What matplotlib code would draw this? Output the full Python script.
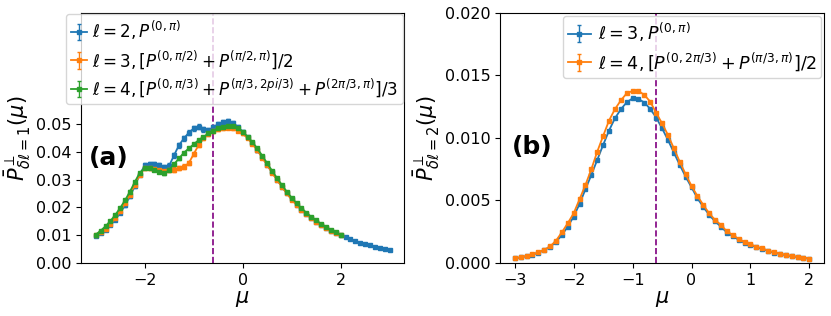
import numpy as np
import matplotlib
matplotlib.use("Agg")
import matplotlib.pyplot as plt

# mu grid (step 0.1)
mu_a_long = np.round(np.arange(-3.0, 3.05, 0.1), 1)   # 61 points, l=2
mu_a = np.round(np.arange(-3.0, 2.05, 0.1), 1)        # 51 points
mu_b = np.round(np.arange(-3.0, 2.05, 0.1), 1)

# panel (a): P_{dl=1}
a_l2 = [0.0097, 0.0107, 0.0120, 0.0136, 0.0156, 0.0180, 0.0208, 0.0240, 0.0277, 0.0318,
        0.0352, 0.0357, 0.0356, 0.0352, 0.0346, 0.0350, 0.0388, 0.0424, 0.0448, 0.0469,
        0.0484, 0.0490, 0.0482, 0.0478, 0.0488, 0.0500, 0.0508, 0.0511, 0.0505, 0.0490,
        0.0472, 0.0452, 0.0430, 0.0406, 0.0380, 0.0353, 0.0326, 0.0300, 0.0275, 0.0251,
        0.0229, 0.0210, 0.0192, 0.0176, 0.0162, 0.0149, 0.0137, 0.0126, 0.0116, 0.0107,
        0.0099, 0.0092, 0.0085, 0.0079, 0.0073, 0.0068, 0.0063, 0.0059, 0.0055, 0.0051,
        0.0047]
a_l2_err = [0.0003, 0.0003, 0.0003, 0.0004, 0.0004, 0.0004, 0.0005, 0.0005, 0.0006, 0.0006,
            0.0007, 0.0007, 0.0007, 0.0007, 0.0007, 0.0008, 0.0009, 0.0009, 0.0009, 0.0009,
            0.0009, 0.0009, 0.0009, 0.0008, 0.0008, 0.0008, 0.0008, 0.0007, 0.0007, 0.0006,
            0.0006, 0.0005, 0.0005, 0.0005, 0.0004, 0.0004, 0.0004, 0.0004, 0.0003, 0.0003,
            0.0003, 0.0003, 0.0003, 0.0002, 0.0002, 0.0002, 0.0002, 0.0002, 0.0002, 0.0002,
            0.0002, 0.0002, 0.0002, 0.0002, 0.0002, 0.0002, 0.0001, 0.0001, 0.0001, 0.0001,
            0.0001]

a_l3 = [0.0100, 0.0110, 0.0123, 0.0140, 0.0161, 0.0186, 0.0214, 0.0246, 0.0282, 0.0318,
        0.0340, 0.0340, 0.0337, 0.0333, 0.0331, 0.0334, 0.0336, 0.0341, 0.0347, 0.0359,
        0.0392, 0.0424, 0.0448, 0.0464, 0.0474, 0.0481, 0.0485, 0.0487, 0.0484, 0.0476,
        0.0466, 0.0449, 0.0428, 0.0405, 0.0379, 0.0352, 0.0325, 0.0299, 0.0274, 0.0250,
        0.0228, 0.0209, 0.0191, 0.0175, 0.0161, 0.0148, 0.0136, 0.0126, 0.0116, 0.0107,
        0.0099]
a_l3_err = [0.0003, 0.0003, 0.0003, 0.0003, 0.0004, 0.0004, 0.0004, 0.0005, 0.0005, 0.0005,
            0.0006, 0.0006, 0.0006, 0.0006, 0.0007, 0.0007, 0.0008, 0.0008, 0.0008, 0.0008,
            0.0008, 0.0007, 0.0007, 0.0006, 0.0006, 0.0006, 0.0005, 0.0005, 0.0005, 0.0005,
            0.0004, 0.0004, 0.0004, 0.0004, 0.0003, 0.0003, 0.0003, 0.0003, 0.0003, 0.0002,
            0.0002, 0.0002, 0.0002, 0.0002, 0.0002, 0.0002, 0.0002, 0.0001, 0.0001, 0.0001,
            0.0001]

a_l4 = [0.0102, 0.0116, 0.0132, 0.0151, 0.0173, 0.0198, 0.0226, 0.0257, 0.0292, 0.0325,
        0.0341, 0.0343, 0.0336, 0.0329, 0.0322, 0.0334, 0.0356, 0.0376, 0.0397, 0.0412,
        0.0427, 0.0442, 0.0454, 0.0466, 0.0476, 0.0484, 0.0490, 0.0494, 0.0493, 0.0487,
        0.0472, 0.0455, 0.0435, 0.0412, 0.0386, 0.0359, 0.0332, 0.0306, 0.0281, 0.0257,
        0.0235, 0.0215, 0.0197, 0.0181, 0.0166, 0.0153, 0.0141, 0.0130, 0.0119, 0.0110,
        0.0101]
a_l4_err = [0.0002, 0.0002, 0.0002, 0.0003, 0.0003, 0.0003, 0.0003, 0.0004, 0.0004, 0.0004,
            0.0004, 0.0004, 0.0004, 0.0004, 0.0004, 0.0004, 0.0004, 0.0004, 0.0004, 0.0004,
            0.0004, 0.0004, 0.0004, 0.0004, 0.0004, 0.0004, 0.0004, 0.0004, 0.0004, 0.0003,
            0.0003, 0.0003, 0.0003, 0.0003, 0.0003, 0.0003, 0.0002, 0.0002, 0.0002, 0.0002,
            0.0002, 0.0002, 0.0002, 0.0002, 0.0001, 0.0001, 0.0001, 0.0001, 0.0001, 0.0001,
            0.0001]

# panel (b): P_{dl=2}
b_l3 = [0.00036, 0.00044, 0.00054, 0.00066, 0.00082, 0.00102, 0.00128, 0.00168, 0.00222, 0.00291,
        0.00371, 0.00472, 0.00589, 0.00704, 0.00824, 0.00944, 0.01059, 0.01157, 0.01229, 0.01285,
        0.01317, 0.01312, 0.01283, 0.01232, 0.01163, 0.01077, 0.00984, 0.00883, 0.00784, 0.00690,
        0.00605, 0.00517, 0.00448, 0.00384, 0.00332, 0.00290, 0.00243, 0.00215, 0.00185, 0.00160,
        0.00144, 0.00125, 0.00112, 0.00095, 0.00082, 0.00072, 0.00062, 0.00054, 0.00047, 0.00041,
        0.00034]
b_l4 = [0.00037, 0.00045, 0.00056, 0.00068, 0.00084, 0.00105, 0.00132, 0.00178, 0.00245, 0.00318,
        0.00397, 0.00510, 0.00624, 0.00750, 0.00890, 0.01016, 0.01139, 0.01230, 0.01300, 0.01357,
        0.01376, 0.01376, 0.01344, 0.01290, 0.01200, 0.01117, 0.01024, 0.00917, 0.00810, 0.00710,
        0.00616, 0.00536, 0.00464, 0.00397, 0.00344, 0.00304, 0.00252, 0.00224, 0.00192, 0.00166,
        0.00150, 0.00130, 0.00117, 0.00099, 0.00085, 0.00075, 0.00064, 0.00056, 0.00048, 0.00043,
        0.00035]
b_err = [0.00003] * 51

mu_c = -0.6

labels_a = [r'$\ell=2, P^{(0,\pi)}$',
            r'$\ell=3, [P^{(0,\pi/2)}+P^{(\pi/2,\pi)}]/2$',
            r'$\ell=4, [P^{(0,\pi/3)}+P^{(\pi/3,2pi/3)}+P^{(2\pi/3,\pi)}]/3$']
labels_b = [r'$\ell=3, P^{(0,\pi)}$',
            r'$\ell=4, [P^{(0,2\pi/3)}+P^{(\pi/3,\pi)}]/2$']

fig = plt.figure(figsize=(8.31, 3.16), dpi=100)
ax1 = fig.add_axes([0.0975, 0.168, 0.389, 0.791])
ax2 = fig.add_axes([0.6017, 0.168, 0.390, 0.791])

ekw = dict(marker='s', markersize=2.5, lw=1.3, capsize=1.5, elinewidth=1)

ax1.errorbar(mu_a_long, a_l2, yerr=a_l2_err, color='tab:blue', label=labels_a[0], **ekw)
ax1.errorbar(mu_a, a_l3, yerr=a_l3_err, color='tab:orange', label=labels_a[1], **ekw)
ax1.errorbar(mu_a, a_l4, yerr=a_l4_err, color='tab:green', label=labels_a[2], **ekw)
ax1.axvline(mu_c, color='purple', ls='--', lw=1.2)
ax1.set_ylim(0, 0.09)
ax1.set_yticks([0, 0.01, 0.02, 0.03, 0.04, 0.05])
ax1.set_xticks([-2, 0, 2])
ax1.set_xlabel(r'$\mu$', fontsize=15, labelpad=1)
ax1.set_ylabel(r'$\bar{P}^{\perp}_{\delta\ell=1}(\mu)$', fontsize=15, labelpad=2)
ax1.text(0.025, 0.42, '(a)', transform=ax1.transAxes, fontsize=18,
         fontweight='bold', va='center', ha='left')
ax1.legend(loc='upper right', fontsize=12.1, borderaxespad=0.05,
           handlelength=1.0, handletextpad=0.3, labelspacing=0.35, borderpad=0.3)

ax2.errorbar(mu_b, b_l3, yerr=b_err, color='tab:blue', label=labels_b[0], **ekw)
ax2.errorbar(mu_b, b_l4, yerr=b_err, color='tab:orange', label=labels_b[1], **ekw)
ax2.axvline(mu_c, color='purple', ls='--', lw=1.2)
ax2.set_ylim(0, 0.02)
ax2.set_yticks([0, 0.005, 0.010, 0.015, 0.020])
ax2.set_xticks([-3, -2, -1, 0, 1, 2])
ax2.set_xlabel(r'$\mu$', fontsize=15, labelpad=1)
ax2.set_ylabel(r'$\bar{P}^{\perp}_{\delta\ell=2}(\mu)$', fontsize=15, labelpad=2)
ax2.text(0.036, 0.465, '(b)', transform=ax2.transAxes, fontsize=18,
         fontweight='bold', va='center', ha='left')
ax2.legend(loc='upper right', fontsize=12.6, borderaxespad=0.15,
           handlelength=1.3, handletextpad=0.4, labelspacing=0.35, borderpad=0.3)

for ax in (ax1, ax2):
    ax.tick_params(labelsize=11.5)

fig.savefig('out.png', dpi=100)
